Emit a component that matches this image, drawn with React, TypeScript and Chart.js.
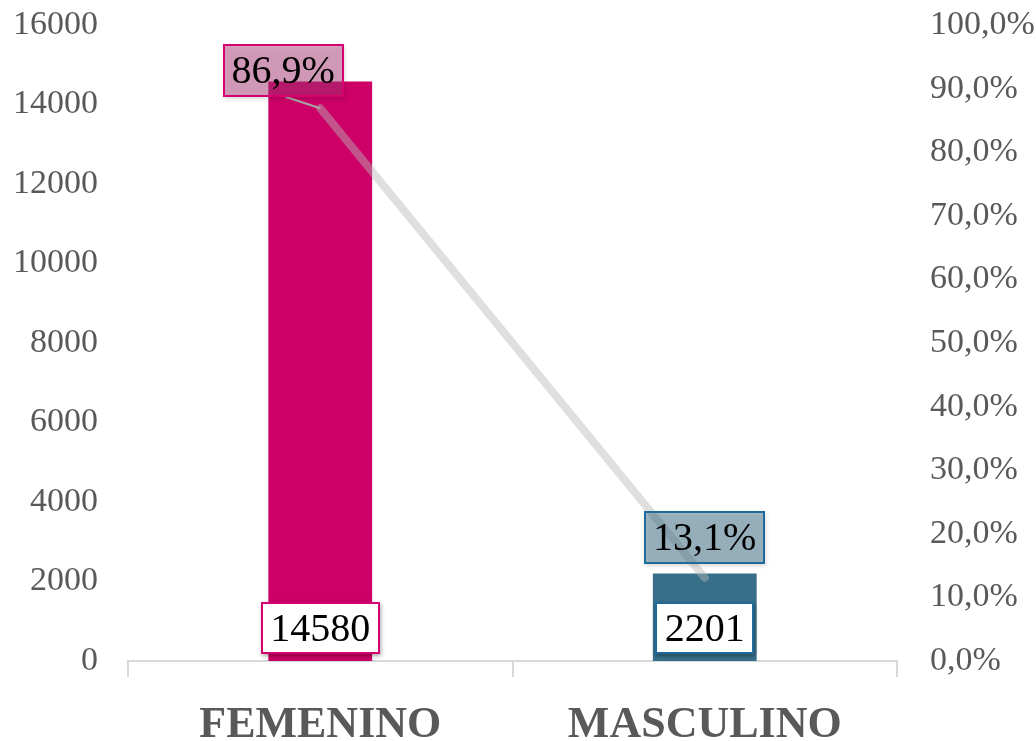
import React, { useEffect, useRef } from "react";
import { Chart, registerables } from "chart.js";

Chart.register(...registerables);

const categories = ["FEMENINO", "MASCULINO"];
const counts = [14580, 2201];
const percents = [86.9, 13.1];
const leftTicks = { min: 0, max: 16000, step: 2000 };
const rightTicks = { min: 0, max: 100, step: 10 };

const barColors = ["#CC0066", "#376F89"];
const barBorders = ["#D6006F", "#1F6A9A"];
const pctFills = ["rgba(190,60,130,0.42)", "rgba(55,110,140,0.42)"];

const SERIF = '"Liberation Serif", "DejaVu Serif", serif';

function fmtPct(v: number) {
  return v.toFixed(1).replace(".", ",") + "%";
}

function drawBox(ctx: CanvasRenderingContext2D, cx: number, cy: number, w: number, h: number, fill: string, stroke: string) {
  const x = Math.round(cx - w / 2);
  const y = Math.round(cy - h / 2);
  ctx.save();
  ctx.shadowColor = "rgba(0,0,0,0.35)";
  ctx.shadowBlur = 4;
  ctx.shadowOffsetX = 1;
  ctx.shadowOffsetY = 2;
  ctx.fillStyle = fill;
  ctx.fillRect(x, y, w, h);
  ctx.restore();
  ctx.strokeStyle = stroke;
  ctx.lineWidth = 2;
  ctx.strokeRect(x + 1, y + 1, w - 2, h - 2);
}

const labelPlugin = {
  id: "valueLabels",
  afterDatasetsDraw(chart: any) {
    const ctx: CanvasRenderingContext2D = chart.ctx;
    const barMeta = chart.getDatasetMeta(0);
    const lineMeta = chart.getDatasetMeta(1);
    ctx.save();
    ctx.font = "40px " + SERIF;
    ctx.textAlign = "center";
    ctx.textBaseline = "middle";

    const offsets = [
      [-37, -38],
      [0, -40],
    ];
    lineMeta.data.forEach((pt: any, i: number) => {
      const text = fmtPct(percents[i]);
      const w = Math.round(ctx.measureText(text).width + 18);
      const h = 53;
      const cx = pt.x + offsets[i][0];
      const cy = pt.y + offsets[i][1];
      if (i === 0) {
        ctx.save();
        ctx.strokeStyle = "#a6a6a6";
        ctx.lineWidth = 2;
        ctx.beginPath();
        ctx.moveTo(cx + 2, cy + h / 2);
        ctx.lineTo(pt.x, pt.y);
        ctx.stroke();
        ctx.restore();
      }
      drawBox(ctx, cx, cy, w, h, pctFills[i], barBorders[i]);
      ctx.fillStyle = "#000000";
      ctx.fillText(text, cx, cy + 2);
    });

    barMeta.data.forEach((el: any, i: number) => {
      const text = String(counts[i]);
      const w = Math.round(ctx.measureText(text).width + 19);
      const h = 52;
      const cx = el.x;
      const cy = el.base - 33;
      drawBox(ctx, cx, cy, w, h, "#ffffff", barBorders[i]);
      ctx.fillStyle = "#000000";
      ctx.fillText(text, cx, cy + 2);
    });
    ctx.restore();
  },
};

export default function App() {
  const ref = useRef<HTMLCanvasElement | null>(null);

  useEffect(() => {
    if (!ref.current) return;
    const chart = new Chart(ref.current, {
      type: "bar",
      data: {
        labels: categories,
        datasets: [
          {
            type: "bar",
            label: "Cantidad",
            data: counts,
            backgroundColor: barColors,
            borderWidth: 0,
            barPercentage: 0.27,
            categoryPercentage: 1,
            yAxisID: "y",
            order: 2,
          } as any,
          {
            type: "line",
            label: "Porcentaje",
            data: percents,
            borderColor: "rgba(185,185,185,0.45)",
            borderWidth: 8,
            borderCapStyle: "round",
            pointRadius: 0,
            fill: false,
            yAxisID: "y1",
            order: 1,
          } as any,
        ],
      },
      options: {
        animation: false,
        responsive: true,
        maintainAspectRatio: false,
        layout: { padding: { top: 25, left: 0, right: 0, bottom: 0 } },
        plugins: {
          legend: { display: false },
          tooltip: { enabled: false },
        },
        scales: {
          x: {
            grid: {
              display: true,
              drawOnChartArea: false,
              drawTicks: true,
              tickLength: 16,
              color: "#d9d9d9",
              lineWidth: 2,
              offset: true,
            },
            border: { display: true, color: "#d9d9d9", width: 2 },
            ticks: {
              color: "#595959",
              font: { family: SERIF, size: 44, weight: "bold" },
              padding: 22,
              autoSkip: false,
              maxRotation: 0,
            },
            afterFit: (s: any) => {
              s.height = 80;
              s.paddingLeft = 0;
              s.paddingRight = 0;
            },
          },
          y: {
            position: "left",
            min: leftTicks.min,
            max: leftTicks.max,
            grid: { display: false },
            border: { display: false },
            ticks: {
              stepSize: leftTicks.step,
              color: "#595959",
              font: { family: SERIF, size: 34 },
              padding: 22,
              callback: (v: any) => String(v),
            },
            afterFit: (s: any) => {
              s.width = 128;
              s.paddingTop = 0;
              s.paddingBottom = 0;
            },
          },
          y1: {
            position: "right",
            min: rightTicks.min,
            max: rightTicks.max,
            grid: { display: false },
            border: { display: false },
            ticks: {
              stepSize: rightTicks.step,
              color: "#595959",
              font: { family: SERIF, size: 34 },
              padding: 25,
              callback: (v: any) => fmtPct(Number(v)),
            },
            afterFit: (s: any) => {
              s.width = 139;
              s.paddingTop = 0;
              s.paddingBottom = 0;
            },
          },
        },
      },
      plugins: [labelPlugin],
    } as any);
    return () => chart.destroy();
  }, []);

  return (
    <div style={{ position: "fixed", left: 0, top: 0, width: 1036, height: 741, background: "#ffffff" }}>
      <canvas ref={ref} />
    </div>
  );
}
